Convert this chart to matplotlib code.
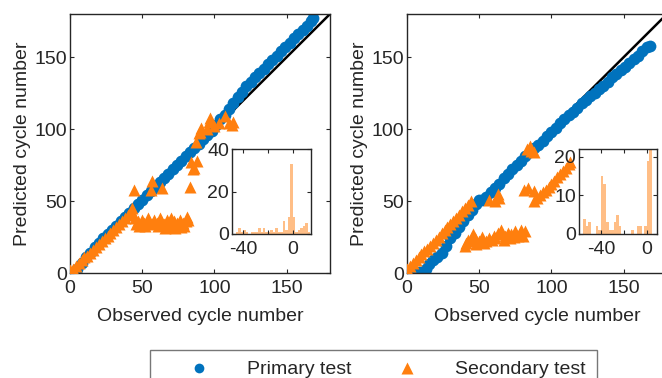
import matplotlib
matplotlib.use('Agg')
import matplotlib.pyplot as plt
from matplotlib.lines import Line2D
import numpy as np

plt.rcParams['font.family'] = ['Liberation Sans', 'DejaVu Sans']
plt.rcParams['font.size'] = 13

blue = '#0072BD'
orange = '#FF7F0E'

# left panel
l_prim_x = [3, 5, 8, 11, 14, 17, 20, 23, 26, 29, 32, 35, 38, 41, 44, 47, 50, 53, 56, 59,
            62, 65, 68, 71, 74, 77, 80, 83, 86, 89, 92, 95, 98, 101, 104, 107, 110, 113,
            116, 119, 122, 125, 128, 131, 134, 137, 140, 143, 146, 149, 152, 155, 158,
            161, 164, 167, 168]
l_prim_y = [0, 3, 7, 11, 14, 18, 21, 24, 27, 30, 33, 36, 39, 42, 45, 48, 51, 54, 57, 60,
            63, 66, 69, 72, 75, 78, 81, 84, 87, 90, 93, 96, 99, 103, 107, 110, 114, 118,
            122, 126, 130, 133, 136, 139, 142, 145, 148, 151, 154, 157, 160, 163, 166,
            169, 172, 175, 177]

l_sec_x = [0, 2, 4, 6, 8, 10, 12, 14, 16, 18, 20, 22, 24, 26, 28, 30, 32, 34, 36, 38, 40,
           42, 43,
           45, 46, 47, 48, 50, 51, 52, 54, 55, 57, 58, 60, 61, 62, 63, 65, 66, 67, 68, 69,
           70, 71, 72, 73, 74, 75, 76, 77, 78, 79, 80, 81, 82,
           44.5, 57, 56, 64, 83, 84, 86, 85, 88, 87, 89, 90, 91, 95, 96, 97, 100, 103,
           107, 110, 113, 112]
l_sec_y = [2, 3, 5, 7, 9, 11, 12, 14, 16, 18, 20, 22, 24, 26, 28, 30, 32, 34, 36, 38, 40,
           42, 45,
           38, 34, 36, 33, 37, 35, 33, 38, 36, 34, 37, 35, 33, 38, 36, 34, 31, 37, 35, 32,
           38, 33, 36, 31, 35, 33, 37, 32, 35, 33, 36, 39, 37,
           58, 64, 58, 59, 60, 77, 73, 72, 78, 91, 97, 98, 101, 100, 105, 108, 102, 104,
           109, 104, 105, 103]

l_err_left = [-46, -44, -42, -40, -38, -36, -34, -32, -30, -28, -26, -24, -22, -20, -18,
              -16, -14, -12, -10, -8, -6, -4, -2, 0, 2, 4, 6, 8, 10, 12]
l_err_count = [1, 3, 1, 2, 1, 0, 1, 1, 1, 3, 1, 3, 1, 1, 2, 1, 3, 1, 1, 6, 2, 8, 33, 8,
               1, 2, 3, 4, 5, 1]

# right panel
r_prim_x = [5, 8, 10, 12, 13, 15, 18, 21, 24, 27, 30, 33, 36, 39, 42, 45, 48, 50, 52, 55,
            58, 61, 64, 67, 70, 73, 76, 79, 82, 85, 88, 91, 94, 97, 100, 103, 106, 109,
            112, 115, 118, 121, 124, 127, 130, 133, 136, 139, 142, 145, 148, 151, 154,
            157, 160, 163, 166, 168]
r_prim_y = [1, 1, 0, 0, 3, 6, 9, 11, 14, 19, 24, 28, 32, 36, 40, 44, 48, 51, 51, 53,
            56, 59, 62, 66, 69, 72, 75, 78, 81, 84, 87, 89, 92, 95, 98, 101, 104, 107,
            110, 112, 115, 118, 120, 123, 125, 128, 130, 133, 136, 138, 141, 143, 146,
            149, 151, 154, 157, 158]

r_sec_x = [0, 2, 4, 6, 8, 10, 12, 14, 16, 18, 20, 22, 24, 26, 28, 30, 32, 34, 36, 38, 40,
           42, 44,
           57, 63, 64, 61, 83, 86, 88, 85, 81, 84, 88,
           88, 90, 92, 94, 96, 98, 100, 102, 104, 106, 108, 110, 112, 113,
           40, 41, 42, 44, 45, 46, 47, 48, 50, 52, 53, 55, 57, 59, 60, 61, 63, 65, 66,
           67, 68, 70, 71, 72, 74, 75, 77, 78, 79, 80, 82]
r_sec_y = [3, 5, 7, 9, 11, 13, 15, 17, 19, 21, 23, 25, 28, 30, 32, 34, 36, 38, 40, 43, 45,
           47, 50,
           51, 55, 52, 50, 86, 85, 84, 88, 58, 59, 57,
           50, 52, 54, 56, 58, 60, 62, 64, 67, 69, 71, 73, 76, 77,
           19, 21, 23, 22, 25, 27, 24, 20, 22, 25, 21, 22, 24, 23, 26, 24, 28, 30, 27,
           23, 26, 28, 24, 27, 25, 29, 26, 28, 30, 26, 29]

r_err_left = [-55.4, -53.2, -51.0, -48.8, -46.6, -44.4, -42.2, -40.0, -37.8, -35.6, -33.4,
              -31.2, -29.0, -26.8, -24.6, -22.4, -20.2, -18.0, -15.8, -13.6, -11.4, -9.2,
              -7.0, -4.8, -2.6, -0.4, 1.8]
r_err_count = [4, 2, 3, 0, 0, 2, 1, 15, 13, 3, 1, 1, 3, 5, 2, 0, 0, 0, 0, 1, 0, 2, 2, 0,
               2, 19, 22]

W, H = 662, 378
fig = plt.figure(figsize=(W / 100, H / 100), dpi=100)


def style(ax):
    ax.tick_params(direction='in', top=True, right=True, length=3, width=0.8,
                   colors='#262626', labelcolor='#262626', labelsize=14)
    ax.tick_params(axis='x', pad=5)
    ax.tick_params(axis='y', pad=2)
    for s in ax.spines.values():
        s.set_color('#262626')
        s.set_linewidth(1.0)


def main_panel(x0, px, py, sx, sy):
    ax = fig.add_axes([x0 / W, 1 - 273 / H, 260 / W, 259 / H])
    ax.plot([0, 180], [0, 180], color='black', lw=1.8, zorder=1)
    ax.plot(px, py, 'o', color=blue, ms=8.5, mec='none', zorder=2)
    ax.plot(sx, sy, '^', color=orange, ms=9, mec='none', zorder=3)
    ax.set_xlim(0, 180)
    ax.set_ylim(0, 180)
    ax.set_xticks([0, 50, 100, 150])
    ax.set_yticks([0, 50, 100, 150])
    ax.set_xlabel('Observed cycle number', fontsize=14, color='#262626', labelpad=8)
    ax.set_ylabel('Predicted cycle number', fontsize=14, color='#262626', labelpad=2.5)
    style(ax)
    return ax


main_panel(70, l_prim_x, l_prim_y, l_sec_x, l_sec_y)
main_panel(407, r_prim_x, r_prim_y, r_sec_x, r_sec_y)

# insets
ins1 = fig.add_axes([232 / W, 1 - 234 / H, 79 / W, 85 / H])
ins1.bar(l_err_left, l_err_count, width=2, align='edge', color=orange, alpha=0.5, lw=0)
ins1.set_xlim(-49, 14.7)
ins1.set_ylim(0, 40)
ins1.set_xticks([-40, -20, 0])
ins1.set_xticklabels(['-40', '', '0'])
ins1.set_yticks([0, 20, 40])
style(ins1)

ins2 = fig.add_axes([579 / W, 1 - 234 / H, 78 / W, 85 / H])
ins2.bar(r_err_left, r_err_count, width=2.2, align='edge', color=orange, alpha=0.5, lw=0)
ins2.set_xlim(-59, 8.5)
ins2.set_ylim(0, 22)
ins2.set_xticks([-40, -20, 0])
ins2.set_xticklabels(['-40', '', '0'])
ins2.set_yticks([0, 10, 20])
style(ins2)

handles = [Line2D([], [], ls='none', marker='o', color=blue, ms=7, mec='none'),
           Line2D([], [], ls='none', marker='^', color=orange, ms=8, mec='none')]
leg = fig.legend(handles, ['Primary test', 'Secondary test'], ncol=2,
                 loc='upper left', bbox_to_anchor=(150 / W, 1 - 350 / H),
                 frameon=True, fancybox=False, fontsize=14, handlelength=3.9,
                 handletextpad=0.55, columnspacing=0.88, borderaxespad=0,
                 borderpad=0.55)
leg.get_frame().set_edgecolor('#555555')
leg.get_frame().set_linewidth(1.0)
for t in leg.get_texts():
    t.set_color('#262626')

fig.savefig('out.png', dpi=100)
